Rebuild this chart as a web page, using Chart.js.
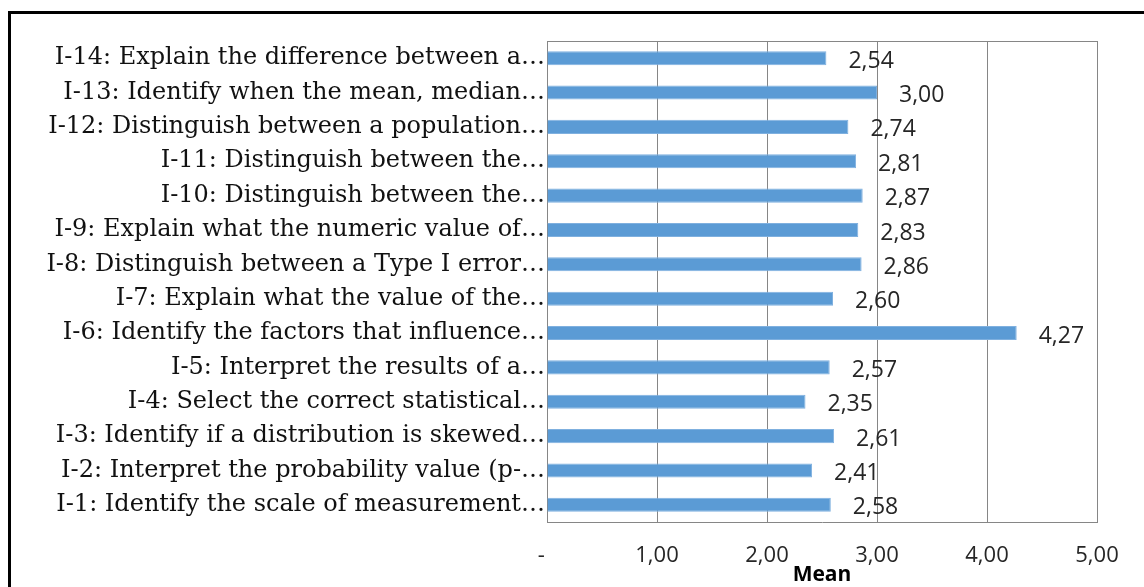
<!DOCTYPE html>
<html>
<head>
<meta charset="utf-8">
<script src="https://cdn.jsdelivr.net/npm/chart.js@4.4.0/dist/chart.umd.min.js"></script>
<style>
  html, body { margin: 0; padding: 0; background: #fff; overflow: hidden; }
  #wrap { position: relative; width: 1144px; height: 587px; }
  #frame { position: absolute; left: 8px; top: 11px; width: 1200px; height: 700px; border: 3px solid #000; box-sizing: border-box; }
  canvas { position: absolute; left: 0; top: 0; }
</style>
</head>
<body>
<div id="wrap">
  <div id="frame"></div>
  <canvas id="c" width="1144" height="587"></canvas>
</div>
<script>
const categories = [
  "I-14: Explain the difference between a\u2026",
  "I-13: Identify when the mean, median\u2026",
  "I-12: Distinguish between a population\u2026",
  "I-11: Distinguish between the\u2026",
  "I-10: Distinguish between the\u2026",
  "I-9: Explain what the numeric value of\u2026",
  "I-8: Distinguish between a Type I error\u2026",
  "I-7: Explain what the value of the\u2026",
  "I-6: Identify the factors that influence\u2026",
  "I-5: Interpret the results of a\u2026",
  "I-4: Select the correct statistical\u2026",
  "I-3: Identify if a distribution is skewed\u2026",
  "I-2: Interpret the probability value (p-\u2026",
  "I-1: Identify the scale of measurement\u2026"
];
const meanValues = [2.54, 3.00, 2.74, 2.81, 2.87, 2.83, 2.86, 2.60, 4.27, 2.57, 2.35, 2.61, 2.41, 2.58];
const xTickValues = [0, 1, 2, 3, 4, 5];
const xTickLabels = ["-  ", "1,00", "2,00", "3,00", "4,00", "5,00"];
const axisTitle = "Mean";

const fmt = v => v.toFixed(2).replace('.', ',');

const plotFrame = {
  id: 'plotFrame',
  afterDatasetsDraw(chart) {
    const a = chart.chartArea, ctx = chart.ctx;
    ctx.save();
    ctx.strokeStyle = '#868686';
    ctx.lineWidth = 1;
    ctx.beginPath();
    ctx.moveTo(a.left, a.top + 0.5);
    ctx.lineTo(a.right, a.top + 0.5);
    ctx.stroke();
    ctx.restore();
  }
};

const dataLabels = {
  id: 'dataLabels',
  afterDatasetsDraw(chart) {
    const ctx = chart.ctx;
    const meta = chart.getDatasetMeta(0);
    ctx.save();
    ctx.font = '23px "Open Sans", "Liberation Sans", sans-serif';
    ctx.fillStyle = '#262626';
    ctx.textAlign = 'left';
    ctx.textBaseline = 'middle';
    meta.data.forEach((bar, i) => {
      ctx.fillText(fmt(meanValues[i]), bar.x + 22, bar.y + 3);
    });
    ctx.restore();
  }
};

new Chart(document.getElementById('c'), {
  type: 'bar',
  data: {
    labels: categories,
    datasets: [{
      data: meanValues,
      backgroundColor: '#5B9BD5',
      borderColor: '#7FB0DF',
      borderWidth: 1,
      categoryPercentage: 1.0,
      barPercentage: 0.41
    }]
  },
  options: {
    indexAxis: 'y',
    responsive: false,
    animation: false,
    devicePixelRatio: 1,
    layout: { padding: { top: 41, right: 47, left: 0, bottom: 0 } },
    plugins: { legend: { display: false }, tooltip: { enabled: false } },
    scales: {
      x: {
        min: 0, max: 5,
        afterBuildTicks(scale) { scale.ticks = xTickValues.map(v => ({ value: v })); },
        afterFit(scale) { scale.height = 65; },
        grid: { color: '#868686', lineWidth: 1, drawTicks: false },
        border: { display: true, color: '#868686' },
        ticks: {
          padding: 21,
          color: '#262626',
          font: { family: '"Open Sans", "Liberation Sans", sans-serif', size: 22 },
          callback: (v) => xTickLabels[xTickValues.indexOf(v)],
          maxRotation: 0, autoSkip: false
        },
        title: {
          display: true, text: axisTitle, color: '#000',
          font: { family: '"Open Sans", "Liberation Sans", sans-serif', size: 21, weight: 'bold', lineHeight: 1.0 },
          padding: { top: 0, bottom: 1 }
        }
      },
      y: {
        afterFit(scale) { scale.width = 547; },
        grid: { display: false, drawTicks: false },
        border: { display: true, color: '#868686' },
        ticks: {
          padding: 2,
          color: '#111',
          autoSkip: false,
          font: { family: '"DejaVu Serif", serif', size: 24 }
        }
      }
    }
  },
  plugins: [plotFrame, dataLabels]
});
</script>
</body>
</html>
